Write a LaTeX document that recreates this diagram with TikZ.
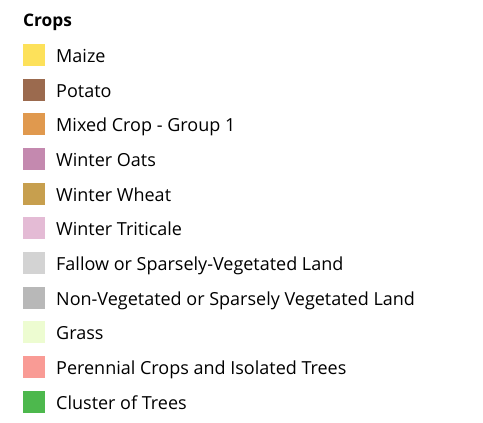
\documentclass[tikz,border=0pt]{standalone}
\usepackage{fontspec}
\setmainfont{Open Sans}
\definecolor{cMaize}{HTML}{FDE15A}
\definecolor{cPotato}{HTML}{9B6A4E}
\definecolor{cMixed}{HTML}{E0994E}
\definecolor{cOats}{HTML}{C489AF}
\definecolor{cWheat}{HTML}{C79F4E}
\definecolor{cTrit}{HTML}{E4BBD5}
\definecolor{cFallow}{HTML}{D3D3D3}
\definecolor{cNonveg}{HTML}{B8B8B8}
\definecolor{cGrass}{HTML}{EDFCD1}
\definecolor{cPeren}{HTML}{F99B95}
\definecolor{cTrees}{HTML}{4DB84D}
\begin{document}
\begin{tikzpicture}[x=1pt,y=-1pt,
  swatch/.style={draw=none,inner sep=0pt,minimum width=22pt,minimum height=22pt},
  label/.style={anchor=base west,inner sep=0pt,font=\fontsize{18}{21}\selectfont},
  title/.style={anchor=base west,inner sep=0pt,font=\fontsize{17.3}{20}\selectfont\bfseries}]
\useasboundingbox (0,0) rectangle (483,423);
\node[title] (t) at (23,27) {Crops};
\foreach \c/\txt [count=\i from 0] in {cMaize/Maize,cPotato/Potato,cMixed/Mixed Crop - Group 1,cOats/Winter Oats,cWheat/Winter Wheat,cTrit/Winter Triticale,cFallow/Fallow or Sparsely-Vegetated Land,cNonveg/Non-Vegetated or Sparsely Vegetated Land,cGrass/Grass,cPeren/Perennial Crops and Isolated Trees,cTrees/Cluster of Trees}{
  \node[swatch,fill=\c] (s\i) at (34,54.8+34.7*\i) {};
  \node[label] (l\i) at (56,62.3+34.7*\i) {\txt};
}
\end{tikzpicture}
\end{document}
